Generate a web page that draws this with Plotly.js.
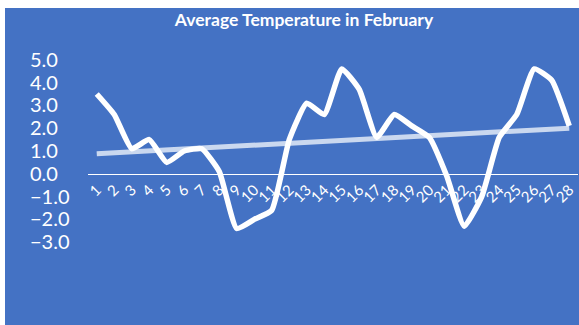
<!DOCTYPE html>
<html>
<head>
<meta charset="utf-8">
<script src="https://cdn.plot.ly/plotly-3.0.1.min.js"></script>
<style>
  html, body { margin: 0; padding: 0; background: #ffffff; }
  #chart { width: 579px; height: 325px; }
</style>
</head>
<body>
<div id="chart"></div>
<script>
// Day of month (category labels)
const days = ['1','2','3','4','5','6','7','8','9','10','11','12','13','14',
              '15','16','17','18','19','20','21','22','23','24','25','26','27','28'];

// Average temperature for each day of February
const temps = [3.5, 2.6, 1.1, 1.5, 0.5, 1.0, 1.1, 0.1, -2.4, -2.0, -1.6, 1.5, 3.1, 2.6,
               4.6, 3.7, 1.6, 2.6, 2.1, 1.6, -0.1, -2.3, -1.0, 1.6, 2.6, 4.6, 4.1, 2.1];

// Value axis ticks
const yTicks = [-3, -2, -1, 0, 1, 2, 3, 4, 5];
const yRange = [-4, 6];

// Least-squares linear trend over the day index
function linearTrend(values) {
  const n = values.length;
  let sx = 0, sy = 0, sxx = 0, sxy = 0;
  values.forEach((v, i) => {
    const x = i + 1;
    sx += x; sy += v; sxx += x * x; sxy += x * v;
  });
  const slope = (n * sxy - sx * sy) / (n * sxx - sx * sx);
  const intercept = (sy - slope * sx) / n;
  return values.map((_, i) => intercept + slope * (i + 1));
}
const trend = linearTrend(temps);

const W = 579, H = 325;
const M = { l: 88, r: 1, t: 37, b: 60 };
const plotW = W - M.l - M.r, plotH = H - M.t - M.b;
const px2x = p => (p - M.l) / plotW;
const py2y = p => (H - M.b - p) / plotH;

const white = '#ffffff';
const fontFam = 'Lato, "Open Sans", sans-serif';

const traces = [
  {
    type: 'scatter', mode: 'lines', x: days, y: trend,
    line: { color: 'rgba(226,234,247,0.85)', width: 5 },
    hoverinfo: 'skip', showlegend: false
  },
  {
    type: 'scatter', mode: 'lines', x: days, y: temps,
    line: { color: white, width: 5.5, shape: 'spline', smoothing: 0.45 },
    showlegend: false
  }
];

const layout = {
  width: W, height: H,
  margin: { l: M.l, r: M.r, t: M.t, b: M.b, pad: 0 },
  paper_bgcolor: '#ffffff',
  plot_bgcolor: 'rgba(0,0,0,0)',
  showlegend: false,
  font: { family: fontFam, color: white },
  title: {
    text: 'Average Temperature in February',
    font: { family: fontFam, size: 17.5, color: white, weight: 'bold' },
    x: 304 / W, xref: 'container', xanchor: 'center',
    y: 1 - 20 / H, yref: 'container', yanchor: 'middle'
  },
  shapes: [{
    type: 'rect', xref: 'paper', yref: 'paper', layer: 'below',
    x0: px2x(5), x1: px2x(W + 2), y0: py2y(H + 2), y1: py2y(8),
    fillcolor: '#4472C4', line: { width: 0 }
  }],
  xaxis: {
    type: 'category',
    range: [-0.5, days.length - 0.5],
    tickmode: 'array', tickvals: days, ticktext: days,
    anchor: 'free',
    position: (0 - yRange[0]) / (yRange[1] - yRange[0]),
    showgrid: false, zeroline: false,
    showline: true, linecolor: white, linewidth: 1.5,
    ticks: '', tickangle: -45,
    tickfont: { family: fontFam, size: 15, color: white },
    fixedrange: true
  },
  yaxis: {
    range: yRange,
    tickvals: yTicks, tickformat: '.1f',
    showgrid: false, zeroline: false, showline: false, ticks: '',
    ticklabelposition: 'inside',
    ticklabelstandoff: -61,
    tickfont: { family: fontFam, size: 20, color: white },
    fixedrange: true
  }
};

Plotly.newPlot('chart', traces, layout, { displayModeBar: false, staticPlot: true });
</script>
</body>
</html>
